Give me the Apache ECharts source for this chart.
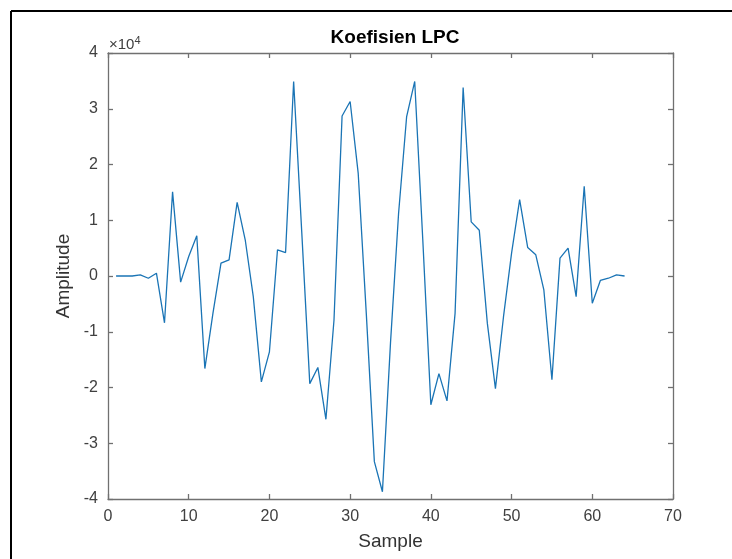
<!DOCTYPE html>
<html><head><meta charset="utf-8">
<script src="https://cdn.jsdelivr.net/npm/echarts@6/dist/echarts.min.js"></script>
<style>html,body{margin:0;padding:0;background:#fff}#c{width:732px;height:559px}</style>
</head><body><div id="c"></div>
<script>
const titleText = 'Koefisien LPC';
const xLabel = 'Sample';
const yLabel = 'Amplitude';
const samples = [1,2,3,4,5,6,7,8,9,10,11,12,13,14,15,16,17,18,19,20,21,22,23,24,25,26,27,28,29,30,31,32,
  33,34,35,36,37,38,39,40,41,42,43,44,45,46,47,48,49,50,51,52,53,54,55,56,57,58,59,60,61,62,63,64];
const amplitude = [0,0,0,200,-400,500,-8400,15100,-1100,3500,7200,-16600,-6700,2300,2900,13200,
  6500,-3700,-19000,-13600,4700,4200,34900,8000,-19300,-16400,-25700,-7900,28700,31300,18400,-6700,
  -33300,-38700,-12000,11200,28600,34900,6500,-23100,-17500,-22400,-6700,33800,9700,8200,
  -8500,-20200,-7300,4100,13700,5100,3800,-2500,-18600,3200,5000,-3700,16100,-4900,-800,-400,200,0];
const xTicks = [0,10,20,30,40,50,60,70];
const yTicks = [-4,-3,-2,-1,0,1,2,3,4];
const yScale = 10000;

const chart = echarts.init(document.getElementById('c'), null, {renderer:'canvas'});
const font = '"Liberation Sans", Arial, Helvetica, sans-serif';
const axisCol = '#707070';
const lblCol = '#404040';
const xMin = xTicks[0], xMax = xTicks[xTicks.length-1], xInt = xTicks[1]-xTicks[0];
const yMin = yTicks[0]*yScale, yMax = yTicks[yTicks.length-1]*yScale, yInt = (yTicks[1]-yTicks[0])*yScale;
const baseAxis = {
  axisLine:{show:true, onZero:false, lineStyle:{color:axisCol, width:1.3}},
  axisTick:{show:true, inside:true, length:5, lineStyle:{color:axisCol, width:1.3}},
  splitLine:{show:false}
};
chart.setOption({
  animation:false,
  backgroundColor:'#fff',
  title:{text:titleText, left:390, textAlign:'center', top:23,
    textStyle:{fontFamily:font, fontSize:19, fontWeight:'bold', color:'#000'}},
  grid:{left:108, top:53, width:565, height:446, containLabel:false},
  xAxis:[
    Object.assign({}, baseAxis, {type:'value', position:'bottom', min:xMin, max:xMax, interval:xInt,
      axisLabel:{color:lblCol, fontFamily:font, fontSize:16, margin:10},
      name:xLabel, nameLocation:'middle', nameGap:33,
      nameTextStyle:{color:'#333', fontFamily:font, fontSize:19}}),
    Object.assign({}, baseAxis, {type:'value', position:'top', min:xMin, max:xMax, interval:xInt,
      axisLabel:{show:false}})
  ],
  yAxis:[
    Object.assign({}, baseAxis, {type:'value', position:'left', min:yMin, max:yMax, interval:yInt,
      axisLabel:{color:lblCol, fontFamily:font, fontSize:16, margin:10,
        formatter:v => String(Math.round(v/yScale))},
      name:yLabel, nameLocation:'middle', nameGap:30, nameRotate:90,
      nameTextStyle:{color:'#333', fontFamily:font, fontSize:19}}),
    Object.assign({}, baseAxis, {type:'value', position:'right', min:yMin, max:yMax, interval:yInt,
      axisLabel:{show:false}})
  ],
  graphic:[
    {type:'line', shape:{x1:11, y1:11, x2:732, y2:11}, style:{stroke:'#000', lineWidth:2}},
    {type:'line', shape:{x1:11, y1:11, x2:11, y2:559}, style:{stroke:'#000', lineWidth:2}},
    {type:'text', left:109, top:35, style:{
      text:'{a|×10}{b|4}', fontFamily:font,
      rich:{a:{fontSize:15, fill:lblCol, fontFamily:font}, b:{fontSize:11, fill:lblCol, fontFamily:font, verticalAlign:'top', padding:[0,0,9,0]}}}}
  ],
  series:[{
    type:'line', xAxisIndex:0, yAxisIndex:0,
    data:samples.map((s,i)=>[s, amplitude[i]]),
    showSymbol:false, symbol:'none',
    lineStyle:{color:'#1a74b5', width:1.3},
    itemStyle:{color:'#1a74b5'}
  }]
});
</script></body></html>
